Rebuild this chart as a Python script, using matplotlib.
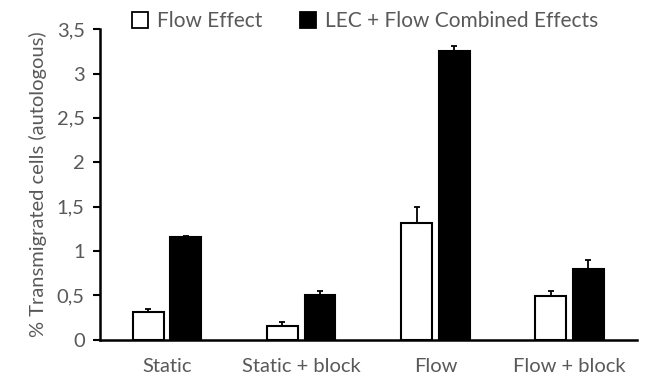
import numpy as np
import matplotlib.pyplot as plt
from matplotlib.patches import Patch

# Data
categories = ['Static', 'Static + block', 'Flow', 'Flow + block']
flow_effect = [0.31, 0.15, 1.31, 0.49]
flow_effect_err = [0.04, 0.05, 0.19, 0.06]
combined = [1.16, 0.50, 3.25, 0.80]
combined_err = [0.01, 0.05, 0.06, 0.10]
y_ticks = [0, 0.5, 1, 1.5, 2, 2.5, 3, 3.5]
y_tick_labels = ['0', '0,5', '1', '1,5', '2', '2,5', '3', '3,5']

plt.rcParams['font.family'] = ['Lato', 'DejaVu Sans']
gray = '#595959'
fs = 14.5

fig = plt.figure(figsize=(6.49, 3.79), dpi=100)
ax = fig.add_axes([0.154, 0.104, 0.827, 0.819])

x = np.arange(len(categories))
w = 0.23
off = 0.14
err_kw = dict(ecolor='black', elinewidth=1.3, capsize=2.5, capthick=1.3)

ax.bar(x - off, flow_effect, w, color='white', edgecolor='black', linewidth=1.5,
       yerr=[np.zeros(4), flow_effect_err], error_kw=err_kw)
ax.bar(x + off, combined, w, color='black', edgecolor='black', linewidth=1.5,
       yerr=[np.zeros(4), combined_err], error_kw=err_kw)

ax.set_xlim(-0.5, len(categories) - 0.5)
ax.set_ylim(0, 3.5)
ax.set_yticks(y_ticks)
ax.set_yticklabels(y_tick_labels)
ax.set_xticks(x)
ax.set_xticklabels(categories)

ax.tick_params(axis='y', direction='out', length=5, width=1.5, colors='black',
               labelcolor=gray, labelsize=fs, pad=6)
ax.tick_params(axis='x', length=0, labelcolor=gray, labelsize=fs, pad=13)

for s in ['top', 'right']:
    ax.spines[s].set_visible(False)
for s in ['left', 'bottom']:
    ax.spines[s].set_linewidth(1.8)

ax.set_ylabel('% Transmigrated cells (autologous)', color=gray, fontsize=fs, labelpad=7)

handles = [
    Patch(facecolor='white', edgecolor='black', linewidth=1.3, label='Flow Effect'),
    Patch(facecolor='black', edgecolor='black', linewidth=1.3, label='LEC + Flow Combined Effects'),
]
leg = fig.legend(handles=handles, loc='center', bbox_to_anchor=(0.562, 0.945), ncol=2,
                 frameon=False, fontsize=15, handlelength=0.8, handleheight=0.8,
                 handletextpad=0.4, columnspacing=1.8)
for t in leg.get_texts():
    t.set_color(gray)

fig.savefig('out.png', dpi=100)
plt.close()
